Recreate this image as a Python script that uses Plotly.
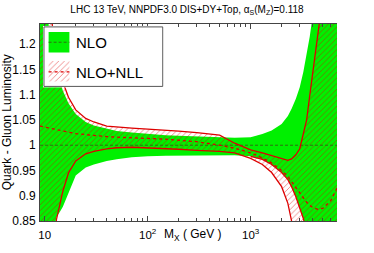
import plotly.graph_objects as go

# ---------------- data ----------------
mass = [9, 10, 11, 12, 13, 14, 15, 17, 20, 25, 30, 40, 50, 70, 100, 150, 200, 300,
        500, 700, 1000, 1300, 1600, 2000, 2300, 2500, 2750, 3000, 3250, 3500, 3750,
        4000, 4500, 5000, 6000, 7000]

nlo_upper = [1.45, 1.31, 1.232, 1.195, 1.16, 1.128, 1.108, 1.083, 1.062, 1.046, 1.039,
             1.032, 1.028, 1.025, 1.022, 1.020, 1.019, 1.018, 1.017, 1.015, 1.016,
             1.022, 1.029, 1.042, 1.058, 1.072, 1.092, 1.115, 1.145, 1.18, 1.215,
             1.255, 1.35, 1.45, 1.7, 2.0]
nlo_lower = [0.5, 0.6, 0.7, 0.82, 0.858, 0.868, 0.878, 0.905, 0.94, 0.956, 0.962,
             0.969, 0.972, 0.976, 0.978, 0.979, 0.979, 0.979, 0.98, 0.98, 0.978,
             0.972, 0.962, 0.946, 0.932, 0.918, 0.898, 0.877, 0.855, 0.83, 0.8,
             0.77, 0.7, 0.6, 0.5, 0.4]
nlo_central = [1.0] * len(mass)

nll_upper = [1.6, 1.45, 1.31, 1.225, 1.18, 1.148, 1.125, 1.095, 1.07, 1.053, 1.046,
             1.038, 1.036, 1.034, 1.032, 1.030, 1.028, 1.025, 1.02, 1.004, 0.991,
             0.985, 0.980, 0.974, 0.970, 0.973, 0.981, 0.993, 1.02, 1.05, 1.098,
             1.14, 1.22, 1.29, 1.5, 1.75]
nll_lower = [0.5, 0.6, 0.72, 0.78, 0.853, 0.885, 0.909, 0.945, 0.969, 0.983, 0.988,
             0.993, 0.995, 0.996, 0.995, 0.994, 0.992, 0.990, 0.988, 0.985, 0.974,
             0.962, 0.946, 0.918, 0.885, 0.85, 0.8, 0.75, 0.7, 0.65, 0.6,
             0.55, 0.45, 0.4, 0.3, 0.2]
nll_central = [1.038, 1.036, 1.034, 1.032, 1.030, 1.029, 1.027, 1.025, 1.023, 1.021,
               1.019, 1.017, 1.016, 1.015, 1.013, 1.012, 1.010, 1.007, 1.000, 0.994,
               0.985, 0.975, 0.965, 0.950, 0.938, 0.928, 0.916, 0.905, 0.895, 0.887,
               0.881, 0.877, 0.873, 0.875, 0.890, 0.918]

x_tickvals = [10, 100, 1000]
x_ticktext = ["10", "10<sup>2</sup>", "10<sup>3</sup>"]
x_minor = [20, 30, 40, 50, 60, 70, 80, 90, 200, 300, 400, 500, 600, 700, 800, 900,
           2000, 3000, 4000, 5000, 6000]
y_tickvals = [0.85, 0.9, 0.95, 1.0, 1.05, 1.1, 1.15, 1.2]
y_ticktext = ["0.85", "0.9", "0.95", "1", "1.05", "1.1", "1.15", "1.2"]

title_text = "LHC 13 TeV, NNPDF3.0 DIS+DY+Top, α<sub>S</sub>(M<sub>Z</sub>)=0.118"
legend_labels = ["NLO", "NLO+NLL"]

# ---------------- styles ----------------
GREEN = "#00f000"
RED = "#dd0000"
DKGREEN = "#2f6f10"
FONT = "Liberation Sans, Arial, Helvetica, sans-serif"
HATCH = dict(shape="/", fgcolor=RED, bgcolor="rgba(0,0,0,0)",
             fgopacity=0.5, size=4, solidity=0.22)

W, H = 374, 253
ML, MR, MT, MB = 37, 37, 24, 26
PW, PH = W - ML - MR, H - MT - MB

fig = go.Figure()

# NLO band
fig.add_trace(go.Scatter(
    x=mass + mass[::-1], y=nlo_upper + nlo_lower[::-1],
    mode="lines", fill="toself", fillcolor=GREEN, line=dict(width=0),
    hoverinfo="skip", showlegend=False))

# NLO+NLL band (hatched)
fig.add_trace(go.Scatter(
    x=mass + mass[::-1], y=nll_upper + nll_lower[::-1],
    mode="lines", fill="toself", fillcolor="rgba(0,0,0,0)", line=dict(width=0),
    fillpattern=HATCH, hoverinfo="skip", showlegend=False))

# NLO central
fig.add_trace(go.Scatter(x=mass, y=nlo_central, mode="lines",
                         line=dict(color=DKGREEN, width=1, dash="3px,2px"),
                         hoverinfo="skip", showlegend=False))

# NLL bounds
for arr in (nll_upper, nll_lower):
    fig.add_trace(go.Scatter(x=mass, y=arr, mode="lines",
                             line=dict(color=RED, width=1.3),
                             hoverinfo="skip", showlegend=False))

# red edge along the NLO lower bound at high mass
g_mass = [m for m in mass if 1000 <= m <= 3500]
g_vals = [v for m, v in zip(mass, nlo_lower) if 1000 <= m <= 3500]
fig.add_trace(go.Scatter(x=g_mass, y=g_vals, mode="lines",
                         line=dict(color=RED, width=1.3),
                         hoverinfo="skip", showlegend=False))

# NLL central
fig.add_trace(go.Scatter(x=mass, y=nll_central, mode="lines",
                         line=dict(color=RED, width=1.3, dash="3px,3px"),
                         hoverinfo="skip", showlegend=False))

# ---------------- hand-drawn legend on an overlay subplot ----------------
fig.add_trace(go.Scatter(x=[0, 120, 120, 0, 0], y=[0, 0, 61.3, 61.3, 0],
                         mode="lines", fill="toself", fillcolor="white",
                         line=dict(color="#555555", width=1),
                         xaxis="x2", yaxis="y2", hoverinfo="skip", showlegend=False))
fig.add_trace(go.Scatter(x=[4.7, 25.7, 25.7, 4.7, 4.7], y=[5.3, 5.3, 26.3, 26.3, 5.3],
                         mode="lines", fill="toself", fillcolor=GREEN, line=dict(width=0),
                         xaxis="x2", yaxis="y2", hoverinfo="skip", showlegend=False))
fig.add_trace(go.Scatter(x=[4.7, 25.7], y=[15.8, 15.8], mode="lines",
                         line=dict(color=DKGREEN, width=1, dash="3px,2px"),
                         xaxis="x2", yaxis="y2", hoverinfo="skip", showlegend=False))
fig.add_trace(go.Scatter(x=[4.7, 25.7, 25.7, 4.7, 4.7], y=[35, 35, 56.3, 56.3, 35],
                         mode="lines", fill="toself", fillcolor="rgba(0,0,0,0)",
                         line=dict(width=0), fillpattern=HATCH,
                         xaxis="x2", yaxis="y2", hoverinfo="skip", showlegend=False))
fig.add_trace(go.Scatter(x=[4.7, 25.7], y=[46.3, 46.3], mode="lines",
                         line=dict(color=RED, width=1.3, dash="3px,3px"),
                         xaxis="x2", yaxis="y2", hoverinfo="skip", showlegend=False))

annotations = [
    dict(text=legend_labels[0], x=30, y=16.5, xref="x2", yref="y2", xanchor="left",
         yanchor="middle", showarrow=False, font=dict(family=FONT, size=15, color="black")),
    dict(text=legend_labels[1], x=30, y=46.5, xref="x2", yref="y2", xanchor="left",
         yanchor="middle", showarrow=False, font=dict(family=FONT, size=15, color="black")),
    dict(text="Quark - Gluon Luminosity", textangle=-90, xref="paper", yref="paper",
         x=-(ML - 3.5) / PW, y=0.5, xanchor="center", yanchor="middle", showarrow=False,
         font=dict(family=FONT, size=12, color="black")),
    dict(text="M<sub>X</sub> ( GeV )", xref="paper", yref="paper",
         x=(160 - ML) / PW, y=-(241 - (MT + PH)) / PH, xanchor="left", yanchor="middle",
         showarrow=False, font=dict(family=FONT, size=12, color="black")),
]

def dom_x(a, b):
    return [(a - ML) / PW, (b - ML) / PW]

def dom_y(top, bottom):
    return [(MT + PH - bottom) / PH, (MT + PH - top) / PH]

fig.update_layout(
    width=W, height=H,
    margin=dict(l=ML, r=MR, t=MT, b=MB),
    paper_bgcolor="white", plot_bgcolor="white",
    title=dict(text=title_text, x=0.5, xanchor="center", y=1 - 9.5 / H, yanchor="middle",
               yref="container", font=dict(family=FONT, size=10, color="black")),
    xaxis=dict(type="log", range=[0.954, 3.839], tickmode="array",
               tickvals=x_tickvals, ticktext=x_ticktext, ticks="inside", ticklen=5,
               tickcolor="#444", showline=True, linecolor="#444", linewidth=1,
               mirror="ticks", showgrid=False, zeroline=False,
               tickfont=dict(family=FONT, size=11.5, color="black"),
               ticklabelstandoff=3,
               minor=dict(tickmode="array", tickvals=x_minor, ticks="inside",
                          ticklen=3, tickcolor="#444", showgrid=False)),
    yaxis=dict(range=[0.85, 1.24], tickmode="array", tickvals=y_tickvals,
               ticktext=y_ticktext, ticks="", showline=True, linecolor="#444",
               linewidth=1, mirror=False, showgrid=False, zeroline=False,
               tickfont=dict(family=FONT, size=12, color="black"),
               ticklabelstandoff=1),
    xaxis2=dict(domain=dom_x(40, 162), range=[-1, 121], visible=False,
                anchor="y2", fixedrange=True),
    yaxis2=dict(domain=dom_y(26, 89.3), range=[62.3, -1], visible=False,
                anchor="x2", fixedrange=True),
    annotations=annotations,
    showlegend=False,
)

fig.write_html("out.html",
               config={"displayModeBar": False, "staticPlot": True},
               post_script="document.body.style.margin='0';document.body.style.padding='0';")
